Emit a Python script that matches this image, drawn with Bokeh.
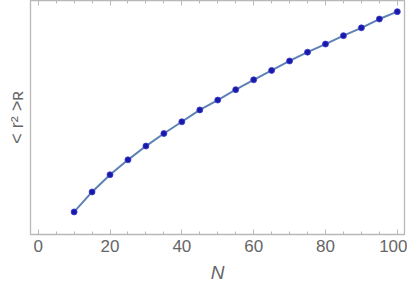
from bokeh.plotting import figure
from bokeh.models import LinearAxis, FixedTicker, Range1d, CustomJSTickFormatter
from bokeh.embed import file_html
from bokeh.resources import INLINE

# Data (arbitrary units)
N = [10, 15, 20, 25, 30, 35, 40, 45, 50, 55, 60, 65, 70, 75, 80, 85, 90, 95, 100]
r2 = [22.3, 42.0, 59.0, 73.7, 87.3, 99.7, 111.3, 123.0, 132.7, 143.0,
      152.7, 162.0, 171.3, 180.0, 188.0, 196.3, 204.0, 212.7, 220.0]
x_ticks = [0, 20, 40, 60, 80, 100]
x_minor = list(range(0, 101, 5))

AX = "#b8b8b8"
TXT = "#666666"
FONT = "Liberation Sans"

p = figure(width=407, height=285, output_backend="svg", toolbar_location=None,
           x_range=Range1d(-2.14, 102.0), y_range=Range1d(0, 231),
           x_axis_location=None, y_axis_location=None,
           min_border_left=30, min_border_right=3, min_border_top=0, min_border_bottom=0,
           margin=0)
p.grid.visible = False
p.outline_line_color = AX
p.outline_line_width = 1.3

def mk_axis(labels):
    ax = LinearAxis(ticker=FixedTicker(ticks=x_ticks, minor_ticks=x_minor))
    ax.axis_line_color = None
    ax.major_tick_line_color = AX
    ax.minor_tick_line_color = AX
    ax.major_tick_in = 5
    ax.major_tick_out = 0
    ax.minor_tick_in = 3
    ax.minor_tick_out = 0
    if labels:
        ax.major_label_text_font = FONT
        ax.major_label_text_font_size = "17px"
        ax.major_label_text_color = TXT
        ax.major_label_standoff = 5
        ax.axis_label = "N"
        ax.axis_label_text_font = FONT
        ax.axis_label_text_font_style = "italic"
        ax.axis_label_text_font_size = "19px"
        ax.axis_label_text_color = TXT
        ax.axis_label_standoff = 7
    else:
        ax.formatter = CustomJSTickFormatter(code="return ''")
        ax.major_label_text_font_size = "1px"
        ax.major_label_standoff = 0
    return ax

p.add_layout(mk_axis(True), "below")
p.add_layout(mk_axis(False), "above")

yax = LinearAxis(ticker=FixedTicker(ticks=[]))
yax.axis_line_color = None
yax.major_tick_line_color = None
yax.minor_tick_line_color = None
yax.axis_label = "< r² >ʀ"
yax.axis_label_text_font = FONT
yax.axis_label_text_font_size = "18px"
yax.axis_label_text_font_style = "normal"
yax.axis_label_text_color = TXT
yax.axis_label_standoff = 4
p.add_layout(yax, "left")

p.line(N, r2, line_color="#5E81B5", line_width=2)
p.scatter(N, r2, size=6, fill_color="#1a1aa8", line_color="#3b3bd0", line_width=0.8)

open("out.html", "w").write(file_html(p, INLINE))
